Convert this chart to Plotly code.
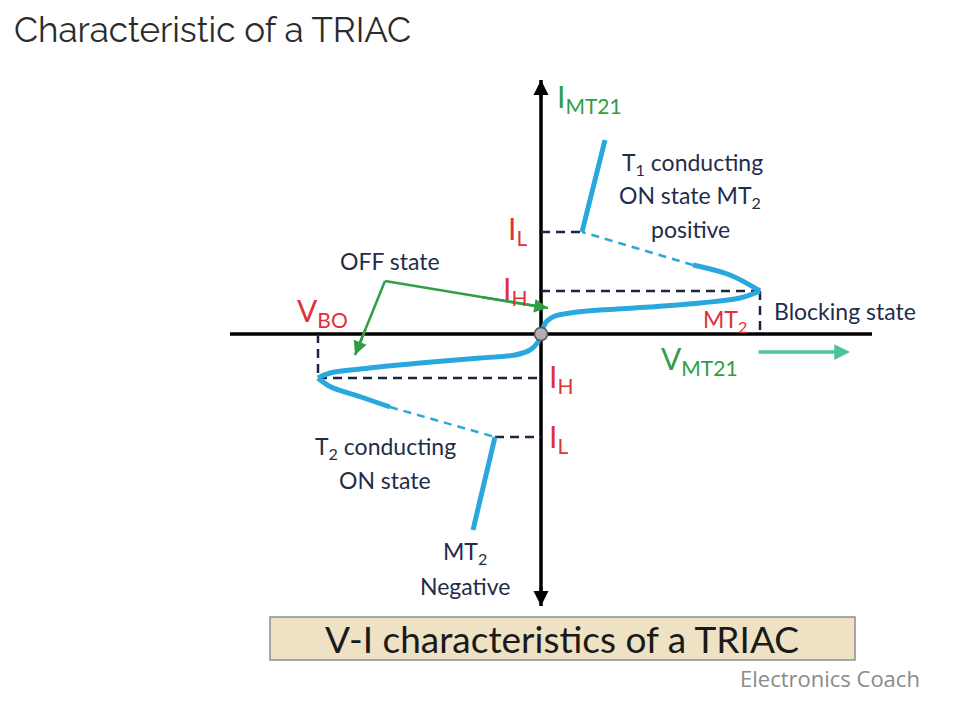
import plotly.graph_objects as go

# ---------------- data (V in arbitrary units, I in arbitrary units) ----------------
# forward blocking (OFF state, MT2 positive)
fwd_off_v = [0, 2, 6, 14, 29, 59, 109, 159, 199, 219]
fwd_off_i = [0, 6, 13, 18, 21, 24, 27, 31, 36, 43]
# forward negative-resistance region (solid part then dashed part)
fwd_turn_v = [219, 189, 152]
fwd_turn_i = [43, 59, 69]
fwd_dash_v = [152, 41]
fwd_dash_i = [69, 102]
# forward ON state (T1 conducting)
fwd_on_v = [41, 64]
fwd_on_i = [102, 194]

# reverse blocking (OFF state, MT2 negative)
rev_off_v = [0, -3, -11, -26, -61, -121, -181, -211, -223]
rev_off_i = [0, -8, -16, -21, -24, -29, -35, -39, -44]
rev_turn_v = [-223, -210, -180, -151]
rev_turn_i = [-44, -53, -63, -73]
rev_dash_v = [-151, -46]
rev_dash_i = [-73, -103]
rev_on_v = [-46, -68]
rev_on_i = [-103, -196]

# key levels
V_BO_POS, V_BO_NEG = 219, -223
I_H_POS, I_H_NEG = 43, -44
I_L_POS, I_L_NEG = 102, -103

# axis extents
V_AXIS = [-311, 331]
I_AXIS = [-272, 254]

BLUE = "#2aa8de"
NAVY = "#1f2d4a"
RED = "#e0313a"
GREEN = "#2f9e44"
TEAL = "#4cc39c"
LBL = "Lato"
LS = 23

fig = go.Figure()

def line(x, y, color, width, dash="solid"):
    fig.add_trace(go.Scatter(x=x, y=y, mode="lines", hoverinfo="skip",
                             line=dict(color=color, width=width, dash=dash, shape="spline"),
                             showlegend=False))

# axes
line(V_AXIS, [0, 0], "black", 3.5)
line([0, 0], I_AXIS, "black", 3.5)

# black dashed guides
d = "9px,6px"
line([0, V_BO_POS], [I_H_POS, I_H_POS], "#1a2540", 2.5, d)
line([V_BO_POS, V_BO_POS], [I_H_POS, 0], "#1a2540", 2.5, d)
line([0, fwd_on_v[0]], [I_L_POS, I_L_POS], "#1a2540", 2.5, d)
line([V_BO_NEG, 0], [I_H_NEG, I_H_NEG], "#1a2540", 2.5, d)
line([V_BO_NEG, V_BO_NEG], [0, I_H_NEG], "#1a2540", 2.5, d)
line([rev_on_v[0], 0], [I_L_NEG, I_L_NEG], "#1a2540", 2.5, d)

# characteristic curves
line(fwd_off_v, fwd_off_i, BLUE, 5)
line(fwd_turn_v, fwd_turn_i, BLUE, 5)
line(fwd_dash_v, fwd_dash_i, BLUE, 2.5, "8px,6px")
line(fwd_on_v, fwd_on_i, BLUE, 5)
line(rev_off_v, rev_off_i, BLUE, 5)
line(rev_turn_v, rev_turn_i, BLUE, 5)
line(rev_dash_v, rev_dash_i, BLUE, 2.5, "8px,6px")
line(rev_on_v, rev_on_i, BLUE, 5)

# origin dot
fig.add_trace(go.Scatter(x=[0], y=[0], mode="markers", hoverinfo="skip", showlegend=False,
                         marker=dict(size=13, color="#b0b0b0", line=dict(color="#555", width=1.5))))

anns = []
def arrow(x0, y0, x1, y1, color, width=2.5, head=2, size=1.0):
    anns.append(dict(x=x1, y=y1, ax=x0, ay=y0, xref="x", yref="y", axref="x", ayref="y",
                     showarrow=True, arrowhead=head, arrowsize=size, arrowwidth=width,
                     arrowcolor=color, text=""))

# axis arrowheads
arrow(0, I_AXIS[1] - 20, 0, I_AXIS[1], "black", 3, 2, 1.0)
arrow(0, I_AXIS[0] + 20, 0, I_AXIS[0], "black", 3, 2, 1.0)
# V_MT21 direction arrow
arrow(216, -18, 309, -18, TEAL, 3.5, 2, 0.9)
# OFF state arrows
line([-156, 7], [53, 26], GREEN, 2.5)
line([-156, -186], [53, -21], GREEN, 2.5)
arrow(-60, 37, 7, 26, GREEN, 2.5, 2, 1.1)
arrow(-175, 6, -186, -21, GREEN, 2.5, 2, 1.1)

def txt(x, y, s, color, size, xanchor="center", family=LBL):
    anns.append(dict(x=x, y=y, xref="x", yref="y", text=s, showarrow=False,
                     xanchor=xanchor, yanchor="middle",
                     font=dict(family=family, size=size, color=color)))

txt(14, 236, "I<sub>MT21</sub>", GREEN, 30, "left")
txt(79, 171, "T<sub>1</sub> conducting", NAVY, LS, "left")
txt(76, 138, "ON state MT<sub>2</sub>", NAVY, LS, "left")
txt(149, 105, "positive", NAVY, LS)
txt(-12, 104, "I<sub>L</sub>", RED, 30, "right")
txt(-12, 44, "I<sub>H</sub>", RED, 30, "right")
txt(-151, 73, "OFF state", NAVY, LS)
txt(-219, 22, "V<sub>BO</sub>", RED, 30)
txt(184, 14, "MT<sub>2</sub>", RED, 23)
txt(231, 23, "Blocking state", NAVY, LS, "left")
txt(158, -26, "V<sub>MT21</sub>", GREEN, 30)
txt(6, -44, "I<sub>H</sub>", RED, 30, "left")
txt(6, -104, "I<sub>L</sub>", RED, 30, "left")
txt(-156, -113, "T<sub>2</sub> conducting", NAVY, LS)
txt(-156, -146, "ON state", NAVY, LS)
txt(-76, -218, "MT<sub>2</sub>", NAVY, LS)
txt(-76, -252, "Negative", NAVY, LS)

# box caption
fig.add_shape(type="rect", xref="x", yref="y", x0=-271, x1=314, y0=-283, y1=-326,
              fillcolor="#efe2c4", line=dict(color="#8a8f96", width=1.5), layer="below")
txt(21, -304, "V-I characteristics of a TRIAC", "#1a1a1a", 37, "center", "Lato")

# page title and credit
anns.append(dict(x=12 / 958, y=1 - 30 / 713, xref="paper", yref="paper", showarrow=False,
                 xanchor="left", yanchor="middle", text="Characteristic of a TRIAC",
                 font=dict(family="Raleway, Lato", size=35, color="#2b2b2b")))
anns.append(dict(x=922 / 958, y=1 - 678 / 713, xref="paper", yref="paper", showarrow=False,
                 xanchor="right", yanchor="middle", text="Electronics Coach",
                 font=dict(family="Open Sans", size=22, color="#8a8a8a")))

fig.update_layout(
    width=958, height=713, margin=dict(l=0, r=0, t=0, b=0),
    paper_bgcolor="white", plot_bgcolor="white",
    xaxis=dict(range=[-541, 417], visible=False, fixedrange=True),
    yaxis=dict(range=[-379, 334], visible=False, fixedrange=True),
    annotations=anns, showlegend=False,
)

fig.write_html("out.html")
